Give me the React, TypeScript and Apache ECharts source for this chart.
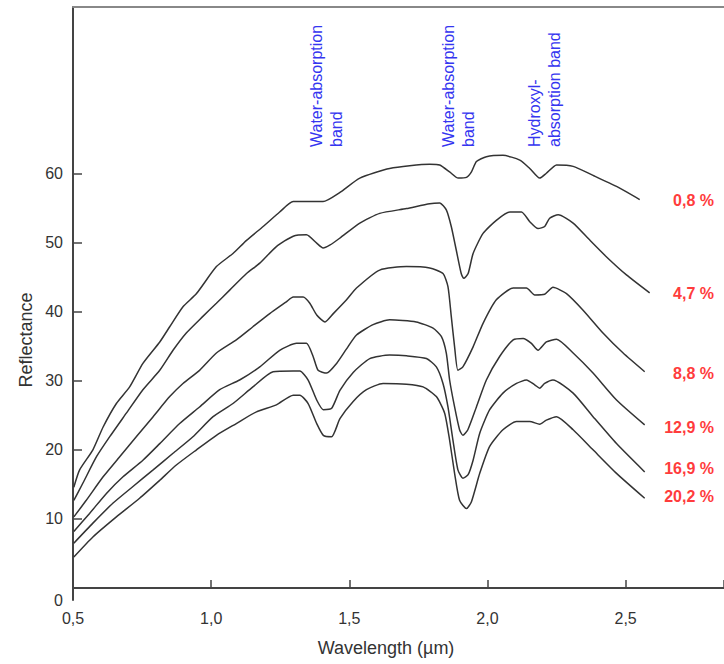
import React, { useEffect, useRef } from "react";
import * as echarts from "echarts";

const moistureLabels = ["0,8 %", "4,7 %", "8,8 %", "12,9 %", "16,9 %", "20,2 %"];

const c08 = [[0.503,14.6],[0.524,17.1],[0.572,20.0],[0.609,23.3],[0.657,26.7],[0.705,29.1],[0.753,32.5],[0.814,35.6],[0.850,37.8],[0.898,40.7],[0.947,42.6],[1.019,46.5],[1.079,48.4],[1.128,50.3],[1.188,52.3],[1.248,54.4],[1.297,55.9],[1.405,55.9],[1.465,57.2],[1.538,59.3],[1.646,60.7],[1.791,61.3],[1.827,61.2],[1.863,60.2],[1.894,59.3],[1.924,59.4],[1.942,60.2],[1.960,61.7],[1.996,62.4],[2.056,62.6],[2.117,61.9],[2.153,60.7],[2.189,59.3],[2.213,60.0],[2.250,61.2],[2.310,61.0],[2.382,59.7],[2.467,58.1],[2.551,56.2]];
const c47 = [[0.503,12.7],[0.536,15.2],[0.585,19.0],[0.633,21.9],[0.693,25.3],[0.753,28.7],[0.814,31.5],[0.862,34.4],[0.910,36.9],[0.970,39.3],[1.019,41.2],[1.067,43.1],[1.128,45.5],[1.176,47.0],[1.236,49.4],[1.297,50.9],[1.345,51.1],[1.382,49.9],[1.405,49.2],[1.429,49.6],[1.465,50.6],[1.538,52.8],[1.610,54.2],[1.707,54.9],[1.791,55.6],[1.827,55.7],[1.851,54.7],[1.869,52.3],[1.887,48.9],[1.905,45.5],[1.914,44.8],[1.930,45.5],[1.948,48.4],[1.984,51.3],[2.032,53.2],[2.081,54.4],[2.123,54.4],[2.153,53.0],[2.183,52.0],[2.207,52.3],[2.225,53.5],[2.256,54.0],[2.310,52.8],[2.371,50.3],[2.431,47.9],[2.503,45.3],[2.587,42.7]];
const c88 = [[0.503,10.3],[0.548,12.7],[0.609,16.1],[0.669,19.0],[0.729,21.9],[0.790,24.8],[0.850,27.7],[0.898,29.6],[0.958,31.5],[1.019,34.0],[1.091,35.9],[1.151,37.8],[1.212,39.7],[1.272,41.4],[1.297,42.1],[1.333,42.1],[1.357,41.2],[1.382,39.5],[1.412,38.5],[1.442,39.7],[1.490,41.7],[1.526,43.4],[1.610,46.0],[1.707,46.5],[1.791,46.3],[1.839,45.5],[1.857,43.6],[1.869,39.3],[1.881,34.9],[1.893,31.5],[1.911,32.0],[1.948,34.9],[1.984,38.3],[2.032,41.7],[2.093,43.4],[2.141,43.4],[2.171,42.4],[2.207,42.5],[2.237,43.5],[2.286,42.6],[2.346,40.2],[2.418,36.9],[2.491,34.0],[2.569,31.3]];
const c129 = [[0.503,8.2],[0.560,10.8],[0.621,13.7],[0.681,16.1],[0.753,18.5],[0.814,20.9],[0.886,23.8],[0.958,26.2],[1.031,28.7],[1.103,30.1],[1.176,32.0],[1.248,34.4],[1.309,35.4],[1.345,35.4],[1.369,33.5],[1.387,31.5],[1.418,31.1],[1.454,32.5],[1.490,34.6],[1.526,36.6],[1.586,38.1],[1.646,38.8],[1.742,38.5],[1.803,37.6],[1.833,36.4],[1.851,34.0],[1.863,30.1],[1.881,26.2],[1.899,22.9],[1.911,22.1],[1.929,22.9],[1.960,26.2],[1.996,30.1],[2.044,33.5],[2.093,35.9],[2.129,36.1],[2.159,35.4],[2.183,34.4],[2.213,35.6],[2.250,36.0],[2.310,34.0],[2.382,31.1],[2.467,27.2],[2.569,23.6]];
const c169 = [[0.503,6.5],[0.572,9.4],[0.645,12.3],[0.717,14.7],[0.790,17.1],[0.862,19.5],[0.934,21.9],[1.007,24.8],[1.079,26.7],[1.151,29.1],[1.224,31.3],[1.297,31.4],[1.321,31.4],[1.351,30.1],[1.382,27.2],[1.406,25.8],[1.436,26.0],[1.466,28.6],[1.514,31.2],[1.574,33.2],[1.646,33.7],[1.707,33.6],[1.779,33.2],[1.815,32.0],[1.839,29.6],[1.857,26.2],[1.875,21.4],[1.893,17.1],[1.911,15.9],[1.930,16.4],[1.948,18.5],[1.972,22.4],[2.008,25.8],[2.056,28.2],[2.105,29.6],[2.141,30.1],[2.171,29.4],[2.189,28.9],[2.207,29.6],[2.237,30.1],[2.310,28.2],[2.382,24.8],[2.467,20.9],[2.569,16.8]];
const c202 = [[0.503,4.5],[0.572,7.4],[0.657,10.3],[0.741,13.0],[0.814,15.6],[0.874,17.8],[0.947,20.0],[1.019,22.1],[1.091,23.8],[1.164,25.5],[1.236,26.5],[1.297,27.9],[1.321,27.9],[1.351,26.7],[1.382,23.8],[1.406,22.1],[1.436,21.9],[1.466,24.5],[1.514,27.0],[1.562,28.7],[1.622,29.6],[1.707,29.5],[1.767,29.1],[1.815,27.7],[1.845,25.3],[1.863,21.4],[1.881,16.6],[1.899,12.7],[1.924,11.5],[1.942,12.5],[1.972,16.6],[2.008,20.5],[2.056,22.9],[2.105,24.1],[2.153,24.1],[2.189,23.7],[2.213,24.3],[2.250,24.8],[2.310,22.9],[2.382,20.0],[2.467,16.6],[2.569,13.0]];

const seriesData = [c08, c47, c88, c129, c169, c202];

const xTickValues = [0.5, 1.0, 1.5, 2.0, 2.5];
const yTickValues = [0, 10, 20, 30, 40, 50, 60];

const X_MIN = 0.5;
const X_MAX = 2.856;
const Y_MIN = -1.72;
const Y_MAX = 84.05;

export default function App() {
  const ref = useRef<HTMLDivElement>(null);

  useEffect(() => {
    if (!ref.current) return;
    const chart = echarts.init(ref.current, null, { renderer: "svg" });
    const font = "Liberation Sans, Arial, sans-serif";
    const labelYs = [200, 293, 373, 427, 468, 496];

    const annotations: any[] = [
      { text: "Water-absorption", x: 316, y: 147 },
      { text: "band", x: 336, y: 147 },
      { text: "Water-absorption", x: 448, y: 147 },
      { text: "band", x: 468, y: 147 },
      { text: "Hydroxyl-", x: 534, y: 147 },
      { text: "absorption band", x: 554, y: 147 },
    ].map((a) => ({
      type: "text",
      x: a.x,
      y: a.y,
      rotation: Math.PI / 2,
      style: {
        text: a.text,
        fill: "#3535f0",
        font: `16px ${font}`,
        textAlign: "left",
        textVerticalAlign: "middle",
      },
    }));

    const moistTexts = moistureLabels.map((t, i) => ({
      type: "text",
      x: 714,
      y: labelYs[i],
      style: {
        text: t,
        fill: "#ff3c3c",
        font: `bold 16px ${font}`,
        textAlign: "right",
        textVerticalAlign: "middle",
      },
    }));

    const fmtX = (v: number) => v.toFixed(1).replace(".", ",");

    chart.setOption({
      animation: false,
      backgroundColor: "#ffffff",
      grid: { left: 73, right: 0, top: 7, bottom: 64, containLabel: false },
      xAxis: [
        {
          type: "value",
          min: X_MIN,
          max: X_MAX,
          interval: 0.5,
          axisLine: { show: true, lineStyle: { color: "#444", width: 2 } },
          axisTick: { show: true, inside: true, length: 8, lineStyle: { color: "#444", width: 1.5 } },
          axisLabel: {
            customValues: xTickValues,
            formatter: fmtX,
            color: "#333",
            fontSize: 16,
            fontFamily: font,
            margin: 10,
          },
          splitLine: { show: false },
        },
        {
          type: "value",
          position: "top",
          min: X_MIN,
          max: X_MAX,
          axisLine: { show: true, onZero: false, lineStyle: { color: "#888", width: 2 } },
          axisTick: { show: false },
          axisLabel: { show: false },
          splitLine: { show: false },
        },
      ],
      yAxis: {
        type: "value",
        min: Y_MIN,
        max: Y_MAX,
        axisLine: { show: true, onZero: false, lineStyle: { color: "#444", width: 2 } },
        axisTick: {
          show: true,
          inside: true,
          length: 9,
          customValues: yTickValues.filter((v) => v > 0),
          lineStyle: { color: "#444", width: 1.5 },
        },
        axisLabel: {
          customValues: yTickValues.map((v) => (v === 0 ? Y_MIN : v)),
          formatter: (v: number) => (v < 0 ? "0" : String(Math.round(v))),
          color: "#333",
          fontSize: 16,
          fontFamily: font,
          margin: 10,
        },
        splitLine: { show: false },
      },
      series: seriesData.map((d, i) => ({
        type: "line",
        name: moistureLabels[i],
        data: d,
        showSymbol: false,
        symbol: "none",
        smooth: 0.2,
        lineStyle: { color: "#333", width: 1.5 },
        xAxisIndex: 0,
      })),
      graphic: [
        ...annotations,
        ...moistTexts,
        {
          type: "text",
          x: 26,
          y: 340,
          rotation: Math.PI / 2,
          style: {
            text: "Reflectance",
            fill: "#333",
            font: `18px ${font}`,
            textAlign: "center",
            textVerticalAlign: "middle",
          },
        },
        {
          type: "text",
          x: 386,
          y: 648,
          style: {
            text: "Wavelength (µm)",
            fill: "#333",
            font: `18px ${font}`,
            textAlign: "center",
            textVerticalAlign: "middle",
          },
        },
      ],
    });
    return () => chart.dispose();
  }, []);

  return (
    <div
      ref={ref}
      style={{ position: "fixed", left: 0, top: 0, width: 724, height: 664, background: "#fff" }}
    />
  );
}
